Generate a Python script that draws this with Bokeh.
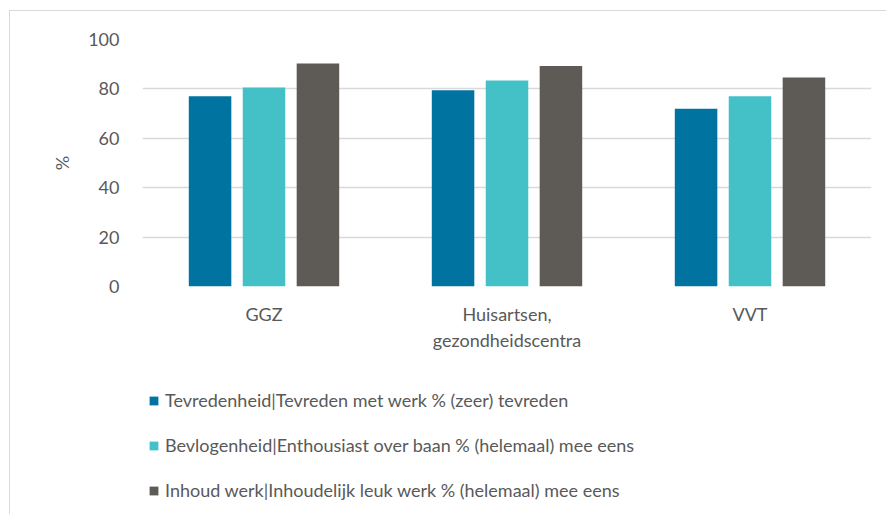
from bokeh.plotting import figure
from bokeh.layouts import column
from bokeh.models import ColumnDataSource, FactorRange, Legend, LegendItem
from bokeh.transform import dodge
from bokeh.embed import file_html
from bokeh.resources import INLINE

categories = ["GGZ", "Huisartsen,\ngezondheidscentra", "VVT"]
series_names = [
    "Tevredenheid|Tevreden met werk % (zeer) tevreden",
    "Bevlogenheid|Enthousiast over baan % (helemaal) mee eens",
    "Inhoud werk|Inhoudelijk leuk werk % (helemaal) mee eens",
]
tevredenheid = [77.0, 79.5, 72.0]
bevlogenheid = [80.6, 83.4, 77.0]
inhoud_werk = [90.3, 89.3, 84.6]
y_ticks = [0, 20, 40, 60, 80, 100]

colors = ["#0073A0", "#44C1C6", "#5E5A56"]
text_color = "#595959"
font = "Lato"

src = ColumnDataSource(dict(cat=categories, s1=tevredenheid, s2=bevlogenheid, s3=inhoud_werk))

p = figure(
    x_range=FactorRange(*categories, range_padding=0),
    y_range=(0, 100),
    width=877, height=350,
    output_backend="svg", toolbar_location=None,
    min_border_left=132, min_border_right=16, min_border_top=28, min_border_bottom=75,
)
p.styles = {"border-left": "1px solid #d9d9d9", "border-top": "1px solid #d9d9d9",
            "margin-left": "9px", "margin-top": "10px"}

offsets = [-0.222, 0.0, 0.222]
keys = ["s1", "s2", "s3"]
for key, off, col in zip(keys, offsets, colors):
    p.vbar(x=dodge("cat", off, range=p.x_range), top=key, width=0.175, source=src,
           fill_color=col, line_color=None)

p.outline_line_color = None
p.xgrid.grid_line_color = None
p.ygrid.grid_line_color = "#d9d9d9"
p.ygrid.grid_line_width = 1.6
p.yaxis.ticker = y_ticks

for ax in (p.xaxis[0], p.yaxis[0]):
    ax.axis_line_color = None
    ax.major_tick_line_color = None
    ax.minor_tick_line_color = None
    ax.major_label_text_font = font
    ax.major_label_text_font_size = "18px"
    ax.major_label_text_color = text_color
p.yaxis.major_label_standoff = 17
p.xaxis.major_label_standoff = 10
p.yaxis.axis_label = "%"
p.yaxis.axis_label_text_font = font
p.yaxis.axis_label_text_font_style = "normal"
p.yaxis.axis_label_text_font_size = "18px"
p.yaxis.axis_label_text_color = text_color
p.yaxis.axis_label_standoff = 12

# Legend figure below the chart (its renderers are hidden; only the legend shows)
lp = figure(width=877, height=154, output_backend="svg", toolbar_location=None,
            min_border=0, x_range=FactorRange(*categories, range_padding=0), y_range=(0, 100))
lp.styles = {"border-left": "1px solid #d9d9d9", "margin-left": "9px"}
lp.axis.visible = False
lp.grid.visible = False
lp.outline_line_color = None
leg_renderers = []
for key, off, col in zip(keys, offsets, colors):
    r = lp.vbar(x=dodge("cat", off, range=lp.x_range), top=key, width=0.175, source=src,
                fill_color=col, line_color=None)
    r.visible = False
    leg_renderers.append(r)
legend = Legend(
    items=[LegendItem(label=n, renderers=[r]) for n, r in zip(series_names, leg_renderers)],
    location=(6, 13),
    orientation="vertical",
    glyph_width=11, glyph_height=11,
    label_text_font=font, label_text_font_size="18px", label_text_color=text_color,
    label_standoff=6, label_height=22, spacing=23,
    padding=0, margin=0,
    border_line_color=None, background_fill_alpha=0,
)
lp.add_layout(legend, "center")

layout = column(p, lp, spacing=0)
open("out.html", "w").write(file_html(layout, INLINE))
